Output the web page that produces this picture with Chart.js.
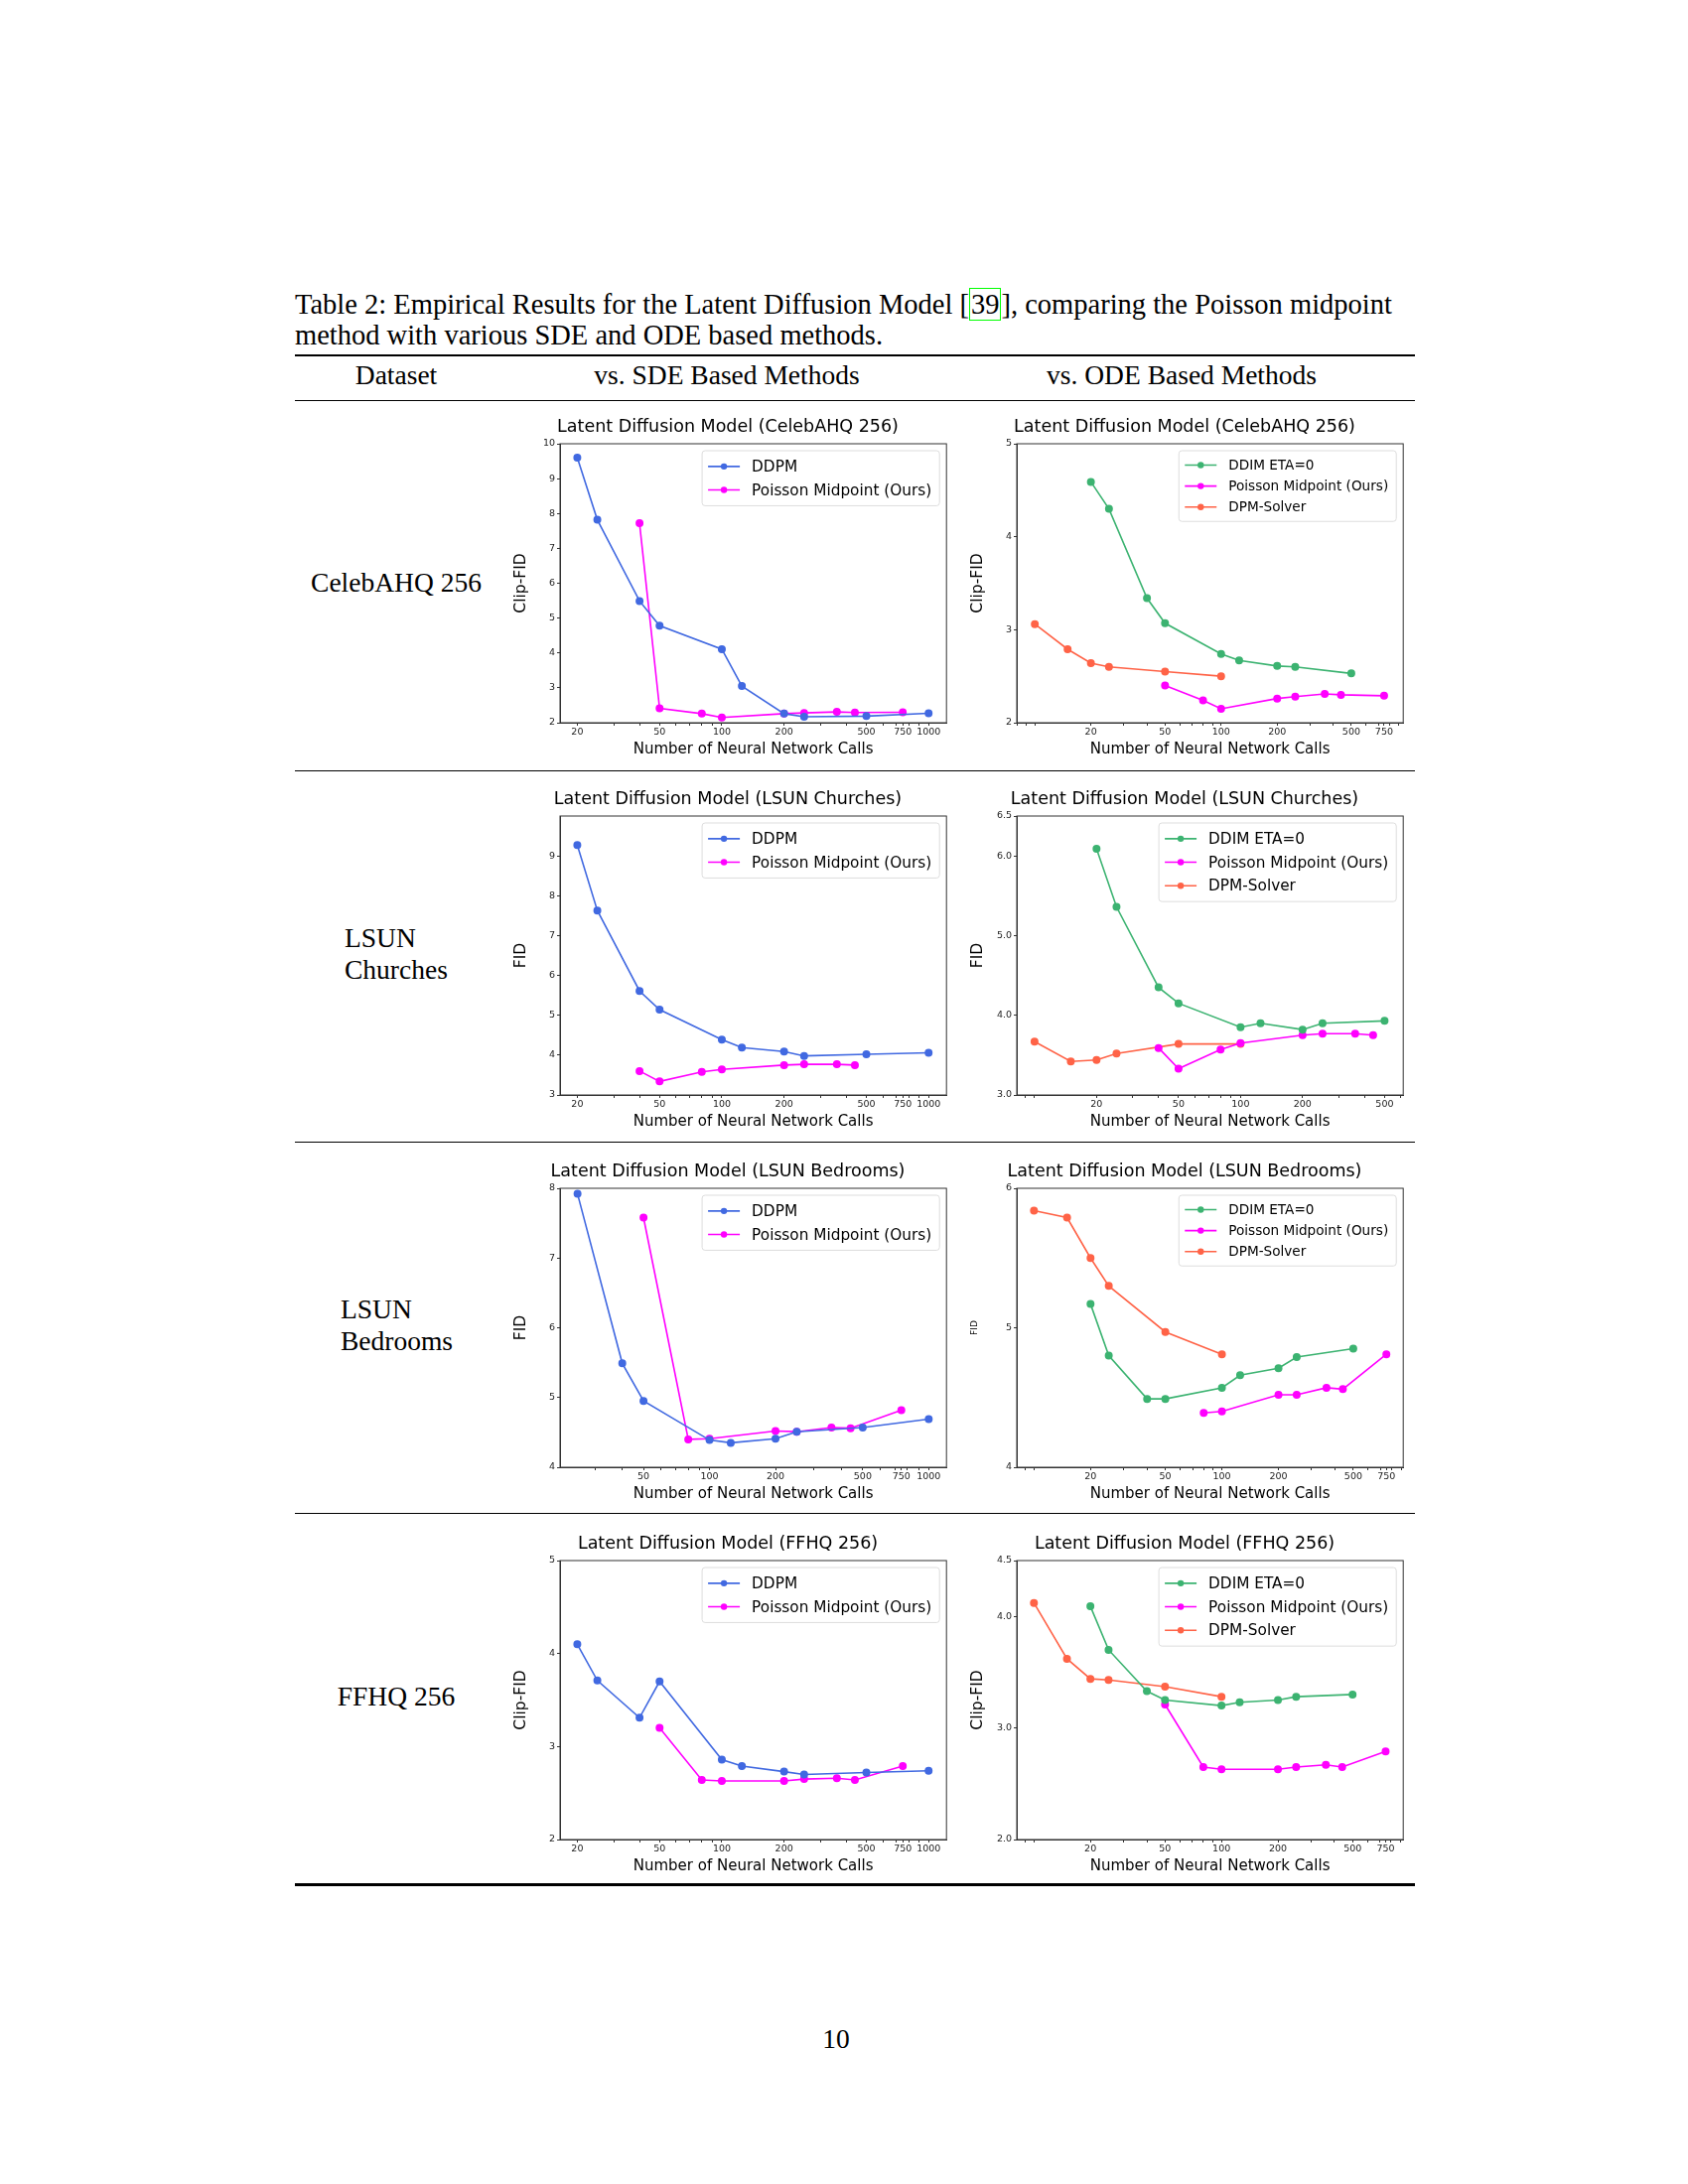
<!DOCTYPE html>
<html lang="en">
<head>
<meta charset="UTF-8">
<script src="https://cdn.jsdelivr.net/npm/chart.js"></script>
<title>Table 2</title>
<style>
  body { margin: 0; background: #fff; width: 1700px; height: 2200px; position: relative; font-family: "Liberation Serif", serif; color: #000; }
  .t { position: absolute; font-size: 27.5px; white-space: nowrap; }
  .cap { font-size: 28.5px; }
  .rule { position: absolute; left: 297px; width: 1128px; background: #000; }
  .box { position: absolute; width: 446px; height: 350px; }
  .cite { border: 1.5px solid #00ff00; padding: 0 1px; }
</style>
</head>
<body>
<div class="t cap" style="left:297px;top:291px">Table 2: Empirical Results for the Latent Diffusion Model [<span class="cite">39</span>], comparing the Poisson midpoint</div>
<div class="t cap" style="left:297px;top:322px">method with various SDE and ODE based methods.</div>
<div class="rule" style="top:357px;height:2px"></div>
<div class="t" style="left:399px;top:362px;transform:translateX(-50%)">Dataset</div>
<div class="t" style="left:732px;top:362px;transform:translateX(-50%)">vs. SDE Based Methods</div>
<div class="t" style="left:1190px;top:362px;transform:translateX(-50%)">vs. ODE Based Methods</div>
<div class="rule" style="top:403px;height:1px"></div>
<div class="rule" style="top:776px;height:1px"></div>
<div class="rule" style="top:1150px;height:1px"></div>
<div class="rule" style="top:1524px;height:1px"></div>
<div class="rule" style="top:1897px;height:3px"></div>

<div class="t" style="left:399px;top:571px;transform:translateX(-50%)">CelebAHQ 256</div>
<div class="t" style="left:347px;top:929px;line-height:32px">LSUN<br>Churches</div>
<div class="t" style="left:343px;top:1303px;line-height:32px">LSUN<br>Bedrooms</div>
<div class="t" style="left:399px;top:1693px;transform:translateX(-50%)">FFHQ 256</div>
<div class="t" style="left:842px;top:2038px;transform:translateX(-50%)">10</div>

<div class="box" style="left:512px;top:418px"><canvas id="c1"></canvas></div>
<div class="box" style="left:972px;top:418px"><canvas id="c2"></canvas></div>
<div class="box" style="left:512px;top:793px"><canvas id="c3"></canvas></div>
<div class="box" style="left:972px;top:793px"><canvas id="c4"></canvas></div>
<div class="box" style="left:512px;top:1168px"><canvas id="c5"></canvas></div>
<div class="box" style="left:972px;top:1168px"><canvas id="c6"></canvas></div>
<div class="box" style="left:512px;top:1543px"><canvas id="c7"></canvas></div>
<div class="box" style="left:972px;top:1543px"><canvas id="c8"></canvas></div>

<script>
// x = number of neural network calls
var ddpmX = [20, 25, 40, 50, 100, 125, 200, 250, 500, 1000]
var ddpmBedX = [25, 40, 50, 100, 125, 200, 250, 500, 1000]
var poissonX = [40, 50, 80, 100, 200, 250, 360, 440, 750]
var poissonX2 = [50, 80, 100, 200, 250, 360, 440, 750]
var poissonX3 = [40, 50, 80, 100, 200, 250, 360, 440]
var poissonX4 = [80, 100, 200, 250, 360, 440, 750]
var ddimX = [20, 25, 40, 50, 100, 125, 200, 250, 500]
var dpmX = [10, 15, 20, 25, 50, 100]

// CelebAHQ 256
var celebDdpm = [9.6, 7.82, 5.49, 4.78, 4.11, 3.05, 2.26, 2.17, 2.19, 2.27]
var celebPoissonSde = [7.72, 2.41, 2.26, 2.15, 2.26, 2.28, 2.31, 2.29, 2.30]
var celebDdim = [4.59, 4.30, 3.34, 3.07, 2.74, 2.67, 2.61, 2.60, 2.53]
var celebPoissonOde = [2.40, 2.24, 2.15, 2.26, 2.28, 2.31, 2.30, 2.29]
var celebDpm = [3.06, 2.79, 2.64, 2.60, 2.55, 2.50]
// LSUN Churches
var churchDdpm = [9.27, 7.63, 5.61, 5.14, 4.39, 4.19, 4.09, 3.98, 4.02, 4.06]
var churchPoisson = [3.60, 3.34, 3.58, 3.64, 3.75, 3.77, 3.77, 3.75]
var churchDdim = [6.09, 5.36, 4.35, 4.15, 3.85, 3.90, 3.82, 3.90, 3.93]
var churchPoissonOde = [3.59, 3.33, 3.57, 3.65, 3.75, 3.77, 3.77, 3.75]
var churchDpm = [3.67, 3.42, 3.44, 3.52, 3.64, 3.64]
// LSUN Bedrooms
var bedDdpm = [7.92, 5.49, 4.95, 4.39, 4.35, 4.41, 4.51, 4.57, 4.69]
var bedPoissonSde = [7.58, 4.40, 4.41, 4.52, 4.51, 4.57, 4.56, 4.82]
var bedDdim = [5.17, 4.80, 4.49, 4.49, 4.57, 4.66, 4.71, 4.79, 4.85]
var bedPoissonOde = [4.39, 4.40, 4.52, 4.52, 4.57, 4.56, 4.81]
var bedDpm = [5.84, 5.79, 5.50, 5.30, 4.97, 4.81]
// FFHQ 256
var ffhqDdpm = [4.10, 3.71, 3.31, 3.70, 2.86, 2.79, 2.73, 2.70, 2.72, 2.74]
var ffhqPoissonSde = [3.20, 2.64, 2.63, 2.63, 2.65, 2.66, 2.64, 2.79]
var ffhqDdim = [4.09, 3.70, 3.33, 3.25, 3.20, 3.23, 3.25, 3.28, 3.30]
var ffhqPoissonOde = [3.21, 2.65, 2.63, 2.63, 2.65, 2.67, 2.65, 2.79]
var ffhqDpm = [4.12, 3.62, 3.44, 3.43, 3.37, 3.28]

var xLabels = [20, 50, 100, 200, 500, 750, 1000]

const BLUE = '#4169e1', MAG = '#ff00ff', GREEN = '#3cb371', RED = '#ff6347'

function pts(xs, ys) { return ys.map((y, i) => ({ x: xs[i], y: y })) }
function ds(label, xs, ys, color) {
    return { label: label, data: pts(xs, ys), borderColor: color, backgroundColor: color,
             showLine: true, borderWidth: 1.6, pointRadius: 3.2, pointHoverRadius: 3.2 }
}

// matplotlib-like frame + legend in upper right
const framePlugin = {
    id: 'frame',
    afterDraw(chart, args, opts) {
        const c = chart.ctx, a = chart.chartArea
        c.save()
        c.strokeStyle = '#333'; c.lineWidth = 1
        c.strokeRect(a.left, a.top, a.right - a.left, a.bottom - a.top)
        const fs = opts.fontSize || 14
        c.font = fs + 'px "DejaVu Sans"'
        const rowH = fs * 1.55
        const items = chart.data.datasets
        let tw = 0
        items.forEach(d => tw = Math.max(tw, c.measureText(d.label).width))
        const w = tw + 58, h = rowH * items.length + 8
        const x0 = a.right - w - 7, y0 = a.top + 7
        c.fillStyle = 'rgba(255,255,255,0.85)'
        c.strokeStyle = '#ddd'
        c.beginPath(); c.roundRect(x0, y0, w, h, 3); c.fill(); c.stroke()
        items.forEach((d, i) => {
            const cy = y0 + 4 + rowH * (i + 0.5)
            c.strokeStyle = d.borderColor; c.lineWidth = 1.6
            c.beginPath(); c.moveTo(x0 + 6, cy); c.lineTo(x0 + 38, cy); c.stroke()
            c.fillStyle = d.borderColor
            c.beginPath(); c.arc(x0 + 22, cy, 3.2, 0, Math.PI * 2); c.fill()
            c.fillStyle = '#000'; c.textBaseline = 'middle'
            c.fillText(d.label, x0 + 50, cy + 1)
        })
        c.restore()
    }
}

function makeChart(id, title, yTitle, datasets, xr, yr, yTicks, o) {
    o = o || {}
    new Chart(document.getElementById(id), {
        type: 'scatter',
        data: { datasets: datasets },
        plugins: [framePlugin],
        options: {
            responsive: true, maintainAspectRatio: false, animation: false,
            layout: { padding: { right: 4, top: 0 } },
            plugins: {
                legend: { display: false }, tooltip: { enabled: false },
                title: { display: true, text: title, color: '#000',
                         font: { family: 'DejaVu Sans', size: 17.5, weight: 'normal' }, padding: { top: 2, bottom: 6 } },
                frame: { fontSize: o.legendSize || 15.3 }
            },
            scales: {
                x: {
                    type: 'logarithmic', min: xr[0], max: xr[1],
                    afterBuildTicks: s => {
                        const t = []
                        for (let d = 1; d <= 1000; d *= 10)
                            for (let m = 1; m < 10; m++) {
                                const v = m * d
                                if (v >= s.min && v <= s.max) t.push({ value: v })
                            }
                        if (750 >= s.min && 750 <= s.max) t.push({ value: 750 })
                        s.ticks = t.sort((p, q) => p.value - q.value)
                    },
                    ticks: { autoSkip: false, maxRotation: 0, color: '#222', font: { family: 'DejaVu Sans', size: 9.5 }, padding: 1,
                             callback: v => xLabels.includes(v) ? String(v) : '' },
                    grid: { drawOnChartArea: false, tickLength: 3, color: '#333' },
                    border: { color: '#333' },
                    title: { display: true, text: 'Number of Neural Network Calls', color: '#000',
                             font: { family: 'DejaVu Sans', size: 15 }, padding: { top: 0 } },
                    afterFit: s => { s.height = 40 }
                },
                y: {
                    min: yr[0], max: yr[1],
                    afterBuildTicks: s => { s.ticks = yTicks.map(v => ({ value: v })) },
                    ticks: { color: '#222', font: { family: 'DejaVu Sans', size: 9.5 }, padding: 2,
                             callback: v => o.fixed ? v.toFixed(1) : String(v) },
                    grid: { drawOnChartArea: false, tickLength: 3, color: '#333' },
                    border: { color: '#333' },
                    title: { display: true, text: yTitle, color: '#000',
                             font: { family: 'DejaVu Sans', size: o.ySize || 15.5 }, padding: { bottom: 0 } },
                    afterFit: s => { s.width = 52 }
                }
            }
        }
    })
}

const T = 'Latent Diffusion Model '
makeChart('c1', T + '(CelebAHQ 256)', 'Clip-FID',
    [ds('DDPM', ddpmX, celebDdpm, BLUE), ds('Poisson Midpoint (Ours)', poissonX, celebPoissonSde, MAG)],
    [16.5, 1220], [2, 10], [2, 3, 4, 5, 6, 7, 8, 9, 10])
makeChart('c2', T + '(CelebAHQ 256)', 'Clip-FID',
    [ds('DDIM ETA=0', ddimX, celebDdim, GREEN), ds('Poisson Midpoint (Ours)', poissonX2, celebPoissonOde, MAG), ds('DPM-Solver', dpmX, celebDpm, RED)],
    [8, 950], [2, 5], [2, 3, 4, 5], { legendSize: 13.6 })
makeChart('c3', T + '(LSUN Churches)', 'FID',
    [ds('DDPM', ddpmX, churchDdpm, BLUE), ds('Poisson Midpoint (Ours)', poissonX3, churchPoisson, MAG)],
    [16.5, 1220], [3, 10], [3, 4, 5, 6, 7, 8, 9])
makeChart('c4', T + '(LSUN Churches)', 'FID',
    [ds('DDIM ETA=0', ddimX, churchDdim, GREEN), ds('Poisson Midpoint (Ours)', poissonX3, churchPoissonOde, MAG), ds('DPM-Solver', dpmX, churchDpm, RED)],
    [8.2, 616], [3, 6.5], [3, 4, 5, 6, 6.5], { fixed: true })
makeChart('c5', T + '(LSUN Bedrooms)', 'FID',
    [ds('DDPM', ddpmBedX, bedDdpm, BLUE), ds('Poisson Midpoint (Ours)', poissonX2, bedPoissonSde, MAG)],
    [20.8, 1205], [4, 8], [4, 5, 6, 7, 8])
makeChart('c6', T + '(LSUN Bedrooms)', 'FID',
    [ds('DDIM ETA=0', ddimX, bedDdim, GREEN), ds('Poisson Midpoint (Ours)', poissonX4, bedPoissonOde, MAG), ds('DPM-Solver', dpmX, bedDpm, RED)],
    [8.1, 922], [4, 6], [4, 5, 6], { legendSize: 13.6, ySize: 9 })
makeChart('c7', T + '(FFHQ 256)', 'Clip-FID',
    [ds('DDPM', ddpmX, ffhqDdpm, BLUE), ds('Poisson Midpoint (Ours)', poissonX2, ffhqPoissonSde, MAG)],
    [16.5, 1220], [2, 5], [2, 3, 4, 5])
makeChart('c8', T + '(FFHQ 256)', 'Clip-FID',
    [ds('DDIM ETA=0', ddimX, ffhqDdim, GREEN), ds('Poisson Midpoint (Ours)', poissonX2, ffhqPoissonOde, MAG), ds('DPM-Solver', dpmX, ffhqDpm, RED)],
    [8.1, 931], [2, 4.5], [2, 3, 4, 4.5], { fixed: true })
</script>
</body>
</html>
